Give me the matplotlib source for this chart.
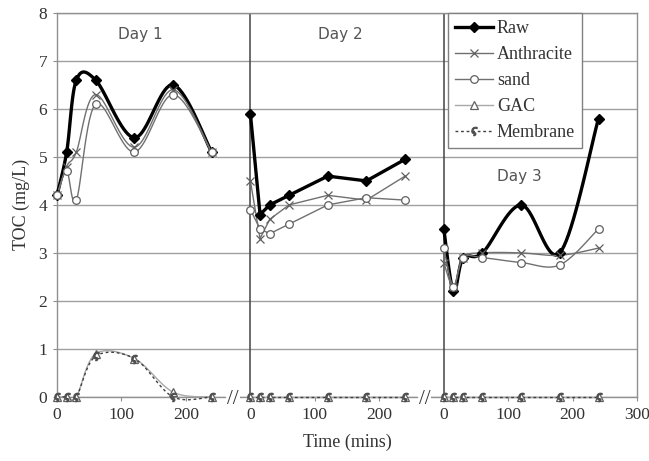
import numpy as np
import matplotlib
matplotlib.use("Agg")
import matplotlib.pyplot as plt

# sampling times (mins) within each day, and x offset of each day on the shared axis
times = [0, 15, 30, 60, 120, 180, 240]
day_offsets = [0, 300, 600]
day_names = ["Day 1", "Day 2", "Day 3"]

raw = [[4.2, 5.1, 6.6, 6.6, 5.4, 6.5, 5.1],
       [5.9, 3.8, 4.0, 4.2, 4.6, 4.5, 4.95],
       [3.5, 2.2, 2.9, 3.0, 4.0, 3.0, 5.8]]
anthracite = [[4.2, 4.8, 5.1, 6.3, 5.2, 6.4, 5.1],
              [4.5, 3.3, 3.7, 4.0, 4.2, 4.1, 4.6],
              [2.8, 2.3, 2.9, 3.0, 3.0, 2.95, 3.1]]
sand = [[4.2, 4.7, 4.1, 6.1, 5.1, 6.3, 5.1],
        [3.9, 3.5, 3.4, 3.6, 4.0, 4.15, 4.1],
        [3.1, 2.3, 2.9, 2.9, 2.8, 2.75, 3.5]]
gac = [[0, 0, 0, 0.9, 0.8, 0.1, 0],
       [0, 0, 0, 0, 0, 0, 0],
       [0, 0, 0, 0, 0, 0, 0]]
membrane = [[0, 0, 0, 0.85, 0.8, 0, 0],
            [0, 0, 0, 0, 0, 0, 0],
            [0, 0, 0, 0, 0, 0, 0]]

# which days were drawn with smoothed lines
smooth_days = [True, False, True]

x_ticks = [0, 100, 200, 300, 400, 500, 600, 700, 800, 900]
x_ticklabels = ["0", "100", "200", "0", "100", "200", "0", "100", "200", "300"]


def smooth(x, y, n=20):
    # catmull-rom curve through the points (like the spreadsheet "smoothed line")
    p = np.column_stack([x, y]).astype(float)
    p = np.vstack([p[0], p, p[-1]])
    out = []
    for i in range(1, len(p) - 2):
        p0, p1, p2, p3 = p[i - 1], p[i], p[i + 1], p[i + 2]
        t = np.linspace(0, 1, n)[:, None]
        seg = 0.5 * ((2 * p1) + (-p0 + p2) * t + (2 * p0 - 5 * p1 + 4 * p2 - p3) * t ** 2
                     + (-p0 + 3 * p1 - 3 * p2 + p3) * t ** 3)
        out.append(seg)
    out = np.vstack(out)
    return out[:, 0], out[:, 1]


serif = "Liberation Serif"
fig = plt.figure(figsize=(6.49, 4.61), dpi=100)
ax = fig.add_axes([0.0878, 0.139, 0.894, 0.833])

styles = [
    ("Raw", raw, dict(color="black", lw=2.4), dict(marker="D", ms=5, mfc="black", mec="black")),
    ("Anthracite", anthracite, dict(color="#707070", lw=1.0), dict(marker="x", ms=6, mec="#606060", mew=0.9)),
    ("sand", sand, dict(color="#707070", lw=1.0), dict(marker="o", ms=5.5, mfc="white", mec="#606060", mew=0.9)),
    ("GAC", gac, dict(color="#a8a8a8", lw=1.0), dict(marker="^", ms=5.5, mfc="white", mec="#606060", mew=0.9)),
    ("Membrane", membrane, dict(color="#404040", lw=1.0, ls=(0, (2, 2))), dict(marker="$\\varsigma$", ms=6, mec="#505050", mfc="#505050")),
]

for label, series, lstyle, mstyle in styles:
    for d in range(3):
        xs = np.array(times) + day_offsets[d]
        ys = series[d]
        if smooth_days[d]:
            sx, sy = smooth(xs, ys)
        else:
            sx, sy = xs, ys
        ax.plot(sx, sy, zorder=3, clip_on=False, **lstyle)
        ax.plot(xs, ys, ls="none", zorder=4, clip_on=False, **mstyle)
    # legend proxy
    ax.plot([], [], label=label, **lstyle, **mstyle)

ax.set_xlim(0, 900)
ax.set_ylim(0, 8)
ax.set_yticks(range(0, 9))
ax.set_xticks(x_ticks)
ax.set_xticklabels(x_ticklabels)
ax.grid(axis="y", color="#a0a0a0", lw=1.0, zorder=0)
for s in ax.spines.values():
    s.set_color("#909090")
    s.set_linewidth(1.0)
ax.tick_params(axis="both", length=3, color="#909090", labelsize=12.5, pad=4)
for t in ax.get_xticklabels() + ax.get_yticklabels():
    t.set_fontfamily(serif)
    t.set_color("#333333")

# day separators
for off in day_offsets[1:]:
    ax.axvline(off, color="#444444", lw=1.1, zorder=2)

# axis break marks
for bx in [273, 570]:
    ax.text(bx, -0.05, "//", fontsize=15, fontfamily=serif, ha="center", va="center",
            color="#333333", zorder=6, clip_on=False,
            bbox=dict(boxstyle="square,pad=0.05", fc="white", ec="none"))

ax.text(130, 7.55, day_names[0], fontsize=11, color="#555555", ha="center", va="center")
ax.text(440, 7.55, day_names[1], fontsize=11, color="#555555", ha="center", va="center")
ax.text(717, 4.6, day_names[2], fontsize=11, color="#555555", ha="center", va="center")

ax.set_xlabel("Time (mins)", fontfamily=serif, fontsize=13, color="#333333", labelpad=8)
ax.set_ylabel("TOC (mg/L)", fontfamily=serif, fontsize=13, color="#333333", labelpad=6)

leg = ax.legend(loc="upper left", bbox_to_anchor=(0.674, 1.0), frameon=True, fancybox=False,
                prop=dict(family=serif, size=13), handlelength=2.1, handletextpad=0.2,
                borderpad=0.4, labelspacing=0.5, borderaxespad=0, framealpha=1)
leg.get_frame().set_edgecolor("#808080")
leg.get_frame().set_linewidth(1.0)
leg.set_zorder(10)
for t in leg.get_texts():
    t.set_color("#333333")

fig.savefig("out.png", dpi=100)
